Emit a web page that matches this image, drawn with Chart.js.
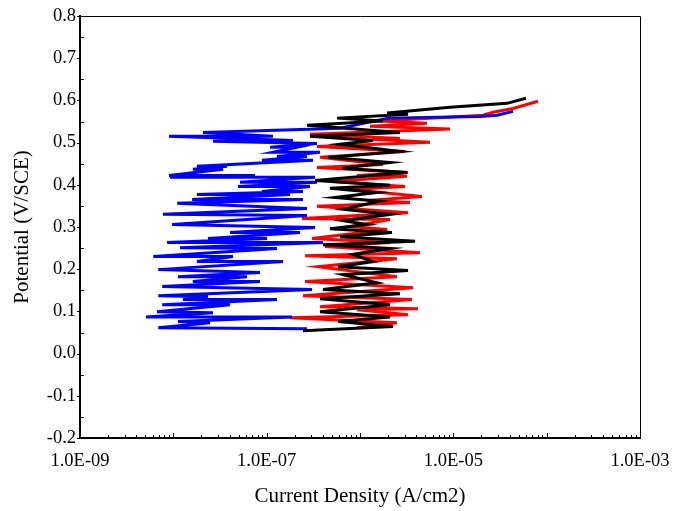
<!DOCTYPE html>
<html>
<head>
<meta charset="utf-8">
<script src="https://cdn.jsdelivr.net/npm/chart.js@4"></script>
<style>
  body { margin: 0; background: #fff; }
  #wrap { width: 675px; height: 511px; }
</style>
</head>
<body>
<div id="wrap"><canvas id="myChart"></canvas></div>
<script>
// current density (A/cm2) and potential (V/SCE)
const blueCurrent = [2.70e-7, 6.9e-9, 2.47e-8, 1.12e-8, 1.87e-7, 5.1e-9, 2.66e-8, 6.7e-9, 4.05e-8, 7.6e-9,
  1.29e-7, 1.27e-8, 2.35e-8, 6.9e-9, 3.06e-7, 7.6e-9, 8.48e-8, 1.62e-8, 6.16e-8, 1.12e-8,
  8.48e-8, 6.9e-9, 1.50e-7, 1.79e-8, 4.36e-8, 6.1e-9, 1.29e-7, 1.18e-8, 4.01e-7, 8.55e-9,
  1.01e-7, 2.35e-8, 2.28e-7, 4.05e-8, 3.30e-7, 9.68e-9, 2.70e-7, 7.75e-9, 2.70e-7, 1.10e-8,
  2.45e-7, 1.59e-8, 1.78e-7, 1.79e-8, 2.45e-7, 8.91e-8, 2.91e-7, 4.93e-8, 3.46e-7, 5.18e-8,
  3.30e-7, 9.21e-9, 7.50e-8, 9.0e-9, 3.41e-8, 1.62e-8, 3.76e-8, 1.79e-8, 3.14e-7, 8.91e-8,
  2.70e-7, 1.29e-7, 3.73e-7, 1.17e-7, 2.11e-7, 1.09e-7, 3.46e-7, 2.66e-8, 1.91e-7, 9.0e-9,
  1.17e-7, 2.08e-8, 3.46e-7, 6.11e-7, 2.0e-6, 1.93e-5, 2.94e-5, 4.36e-5];
const bluePotential = [0.059, 0.061, 0.073, 0.076, 0.087, 0.087, 0.097, 0.099, 0.116, 0.116,
  0.128, 0.128, 0.135, 0.137, 0.152, 0.159, 0.171, 0.171, 0.182, 0.182,
  0.192, 0.199, 0.218, 0.218, 0.230, 0.230, 0.249, 0.251, 0.263, 0.263,
  0.273, 0.273, 0.287, 0.287, 0.299, 0.306, 0.327, 0.330, 0.344, 0.356,
  0.365, 0.365, 0.377, 0.377, 0.384, 0.384, 0.396, 0.396, 0.406, 0.406,
  0.418, 0.418, 0.422, 0.422, 0.437, 0.437, 0.444, 0.444, 0.458, 0.458,
  0.467, 0.467, 0.477, 0.477, 0.489, 0.489, 0.498, 0.503, 0.505, 0.515,
  0.515, 0.524, 0.532, 0.534, 0.558, 0.562, 0.565, 0.574];

const redCurrent = [9.29e-7, 2.49e-6, 1.78e-7, 3.27e-6, 9.29e-7, 4.18e-6, 3.73e-7, 3.61e-6, 2.45e-7, 3.70e-6,
  2.58e-7, 2.49e-6, 3.55e-7, 2.49e-6, 2.58e-7, 4.39e-6, 4.22e-7, 2.10e-6, 3.06e-7, 1.95e-6,
  7.82e-7, 2.10e-6, 2.39e-7, 3.27e-6, 3.46e-7, 3.43e-6, 1.19e-6, 4.62e-6, 7.82e-7, 3.04e-6,
  5.14e-7, 3.19e-6, 9.29e-7, 3.27e-6, 3.46e-7, 1.76e-6, 3.73e-7, 3.04e-6, 3.46e-7, 5.62e-6,
  1.38e-6, 2.68e-6, 2.91e-7, 9.21e-6, 1.28e-6, 5.22e-6, 1.64e-6, 2.08e-5, 2.66e-5, 4.36e-5,
  8.08e-5];
const redPotential = [0.061, 0.073, 0.085, 0.092, 0.104, 0.106, 0.111, 0.128, 0.137, 0.156,
  0.171, 0.182, 0.206, 0.225, 0.232, 0.239, 0.254, 0.263, 0.273, 0.294,
  0.301, 0.318, 0.320, 0.334, 0.349, 0.358, 0.363, 0.372, 0.389, 0.396,
  0.408, 0.420, 0.422, 0.429, 0.441, 0.448, 0.465, 0.479, 0.491, 0.501,
  0.508, 0.510, 0.520, 0.532, 0.539, 0.546, 0.551, 0.565, 0.572, 0.581,
  0.598];

const blackCurrent = [2.45e-7, 2.26e-6, 5.81e-7, 2.10e-6, 3.73e-7, 2.10e-6, 3.73e-7, 2.68e-6, 4.01e-7, 1.52e-6,
  6.58e-7, 3.27e-6, 5.81e-7, 1.38e-6, 8.41e-7, 2.10e-6, 4.01e-7, 3.89e-6, 6.11e-7, 2.20e-6,
  4.77e-7, 1.19e-6, 6.58e-7, 2.10e-6, 6.58e-7, 1.64e-6, 5.40e-7, 1.52e-6, 4.77e-7, 2.10e-6,
  3.30e-7, 3.19e-6, 6.42e-7, 2.10e-6, 4.54e-7, 2.68e-6, 6.11e-7, 1.38e-6, 2.91e-7, 2.68e-6,
  2.71e-7, 1.76e-6, 5.67e-7, 3.27e-6, 1.95e-6, 9.21e-6, 3.76e-5, 6.0e-5];
const blackPotential = [0.054, 0.064, 0.076, 0.087, 0.099, 0.116, 0.130, 0.142, 0.152, 0.168,
  0.187, 0.197, 0.206, 0.218, 0.235, 0.249, 0.258, 0.266, 0.277, 0.287,
  0.296, 0.306, 0.315, 0.330, 0.342, 0.361, 0.370, 0.382, 0.392, 0.399,
  0.410, 0.429, 0.439, 0.453, 0.465, 0.479, 0.496, 0.505, 0.515, 0.524,
  0.541, 0.551, 0.558, 0.567, 0.570, 0.584, 0.593, 0.605];

const xTickValues = [1e-9, 1e-7, 1e-5, 1e-3];
const xTickLabels = ['1.0E-09', '1.0E-07', '1.0E-05', '1.0E-03'];

function toPoints(xs, ys) {
    return xs.map((v, i) => ({ x: v, y: ys[i] }));
}

// inward minor ticks and the thin top/right frame
const frameTicks = {
    id: 'frameTicks',
    afterDraw(chart) {
        const { ctx, chartArea: a, scales: { x, y } } = chart;
        ctx.save();
        ctx.strokeStyle = '#000';
        ctx.lineWidth = 1;
        ctx.beginPath();
        ctx.moveTo(a.left, a.top + 0.5);
        ctx.lineTo(a.right + 0.5, a.top + 0.5);
        ctx.lineTo(a.right + 0.5, a.bottom);
        for (let e = -9; e <= -3; e++) {
            for (let m = 1; m < 10; m++) {
                if (e === -3 && m > 1) break;
                const px = Math.round(x.getPixelForValue(m * Math.pow(10, e))) + 0.5;
                const len = m === 1 ? 5 : 3;
                ctx.moveTo(px, a.bottom);
                ctx.lineTo(px, a.bottom - len);
            }
        }
        for (let k = 0; k <= 20; k++) {
            const py = Math.round(y.getPixelForValue(-0.2 + k * 0.05)) + 0.5;
            if (k % 2 === 0) {
                ctx.moveTo(a.left - 3, py);
                ctx.lineTo(a.left, py);
            } else {
                ctx.moveTo(a.left, py);
                ctx.lineTo(a.left + 4, py);
            }
        }
        ctx.stroke();
        ctx.restore();
    }
};

const ctx = document.getElementById('myChart');

var chart = new Chart(ctx, {
    type: 'scatter',
    data: {
        datasets: [{
            data: toPoints(blackCurrent, blackPotential),
            borderColor: '#000000',
            borderWidth: 3,
            showLine: true,
            pointRadius: 0,
            tension: 0
        }, {
            data: toPoints(blueCurrent, bluePotential),
            borderColor: '#0000ff',
            borderWidth: 3,
            showLine: true,
            pointRadius: 0,
            tension: 0
        }, {
            data: toPoints(redCurrent, redPotential),
            borderColor: '#ff0000',
            borderWidth: 3,
            showLine: true,
            pointRadius: 0,
            tension: 0
        }]
    },
    options: {
        responsive: true,
        maintainAspectRatio: false,
        animation: false,
        layout: { padding: { left: 0, right: 35, top: 16, bottom: 0 } },
        plugins: {
            legend: { display: false },
            tooltip: { enabled: false }
        },
        scales: {
            x: {
                type: 'logarithmic',
                min: 1e-9,
                max: 1e-3,
                afterBuildTicks: (scale) => {
                    scale.ticks = xTickValues.map(v => ({ value: v }));
                },
                afterFit: (scale) => {
                    scale.height = 73;
                    scale.paddingLeft = 0;
                    scale.paddingRight = 0;
                },
                grid: { display: false, drawTicks: false },
                border: { display: true, color: '#000', width: 2 },
                ticks: {
                    color: '#000',
                    padding: 12,
                    maxRotation: 0,
                    autoSkip: false,
                    font: { family: 'Liberation Serif', size: 18.5 },
                    callback: (value, index) => xTickLabels[index]
                },
                title: {
                    display: true,
                    text: 'Current Density (A/cm2)',
                    color: '#000',
                    padding: { top: 0, bottom: 2 },
                    font: { family: 'Liberation Serif', size: 21 }
                }
            },
            y: {
                min: -0.2,
                max: 0.8,
                afterFit: (scale) => { scale.width = 80; },
                grid: { display: false, drawTicks: false },
                border: { display: true, color: '#000', width: 2 },
                ticks: {
                    stepSize: 0.1,
                    color: '#000',
                    padding: 4,
                    font: { family: 'Liberation Serif', size: 18.5 },
                    callback: (v) => Math.abs(v) < 1e-9 ? '0.0' : v.toFixed(1)
                },
                title: {
                    display: true,
                    text: 'Potential (V/SCE)',
                    color: '#000',
                    padding: { top: 10, bottom: 0 },
                    font: { family: 'Liberation Serif', size: 21 }
                }
            }
        }
    },
    plugins: [frameTicks]
});
</script>
</body>
</html>
